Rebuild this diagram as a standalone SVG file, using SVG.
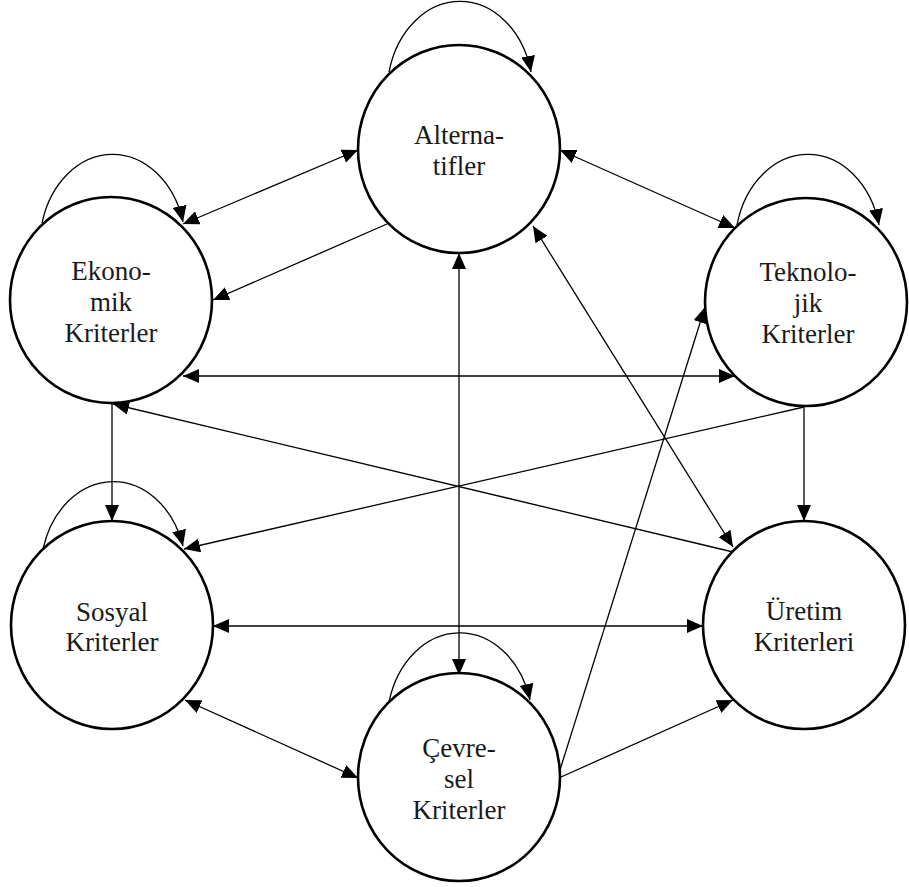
<svg xmlns="http://www.w3.org/2000/svg" width="909" height="887" viewBox="0 0 909 887">
<style>
.node{fill:#fff;stroke:#000;stroke-width:2.6}
.lbl{font-family:"Liberation Serif","Times New Roman",serif;font-size:27px;fill:#1a1a1a;text-anchor:middle}
.c{fill:none;stroke:#000;stroke-width:1.3}
.d{marker-start:url(#ah);marker-end:url(#ah)}
.s{marker-end:url(#ah)}
</style>
<defs>
<marker id="ah" markerUnits="userSpaceOnUse" markerWidth="16" markerHeight="14" refX="16" refY="7" orient="auto-start-reverse" viewBox="0 0 16 14">
<path d="M0,0 L16,7 L0,14 z" fill="#000"/>
</marker>
</defs>
<rect width="909" height="887" fill="#fff"/>
<g id="connectors">
<line class="c d" x1="358" y1="150" x2="183" y2="224"/>
<line class="c s" x1="387" y1="224" x2="213" y2="300"/>
<line class="c d" x1="560" y1="150" x2="735" y2="228"/>
<line class="c d" x1="459" y1="253" x2="459" y2="675"/>
<line class="c d" x1="533" y1="226" x2="733" y2="547"/>
<line class="c d" x1="183" y1="376" x2="735" y2="376"/>
<line class="c s" x1="112" y1="403" x2="112" y2="521"/>
<line class="c s" x1="733" y1="552" x2="113" y2="404"/>
<line class="c s" x1="804" y1="407" x2="184" y2="549"/>
<line class="c s" x1="804" y1="407" x2="804" y2="521"/>
<line class="c d" x1="213" y1="626" x2="703" y2="626"/>
<line class="c d" x1="185" y1="700" x2="358" y2="778"/>
<line class="c s" x1="560" y1="770" x2="705" y2="307"/>
<line class="c s" x1="561" y1="777" x2="733" y2="700"/>
<path class="c s" d="M389,72 A73,92 0 0 1 531,72"/>
<path class="c s" d="M42,223 A73,92 0 0 1 183,222"/>
<path class="c s" d="M737,225 A73,92 0 0 1 879,225"/>
<path class="c s" d="M43,549 A73,92 0 0 1 183,546"/>
<path class="c s" d="M389,702 A73,92 0 0 1 530,700"/>
</g>
<g id="alternatifler">
<ellipse class="node" cx="459" cy="149" rx="101" ry="104"/>
<text class="lbl" x="459" y="144">Alterna-</text>
<text class="lbl" x="459" y="175">tifler</text>
</g>
<g id="ekonomik">
<ellipse class="node" cx="111" cy="300" rx="101" ry="103"/>
<text class="lbl" x="111" y="280">Ekono-</text>
<text class="lbl" x="111" y="311">mik</text>
<text class="lbl" x="111" y="342">Kriterler</text>
</g>
<g id="teknolojik">
<ellipse class="node" cx="806" cy="302" rx="101" ry="104"/>
<text class="lbl" x="808" y="281">Teknolo-</text>
<text class="lbl" x="808" y="312">jik</text>
<text class="lbl" x="808" y="343">Kriterler</text>
</g>
<g id="sosyal">
<ellipse class="node" cx="112" cy="625" rx="101" ry="104"/>
<text class="lbl" x="112" y="621">Sosyal</text>
<text class="lbl" x="112" y="651">Kriterler</text>
</g>
<g id="uretim">
<ellipse class="node" cx="804" cy="625" rx="101" ry="104"/>
<text class="lbl" x="804" y="620">Üretim</text>
<text class="lbl" x="804" y="651">Kriterleri</text>
</g>
<g id="cevresel">
<ellipse class="node" cx="459" cy="777" rx="101" ry="104"/>
<text class="lbl" x="459" y="757">Çevre-</text>
<text class="lbl" x="459" y="788">sel</text>
<text class="lbl" x="459" y="819">Kriterler</text>
</g>
</svg>
